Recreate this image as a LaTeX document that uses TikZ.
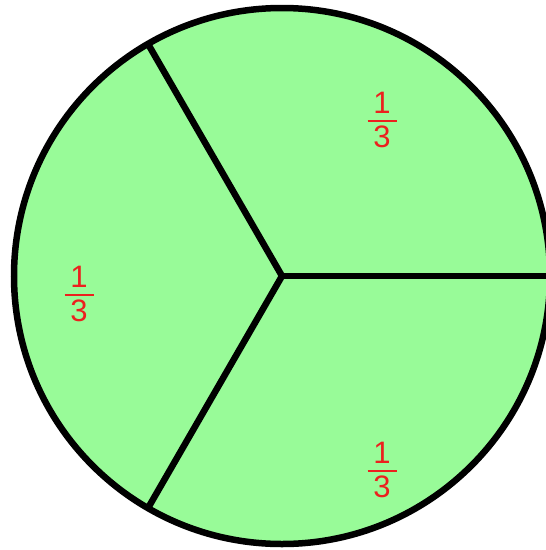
\documentclass[tikz,border=0pt]{standalone}
\usepackage{fontspec}
\setmainfont{Liberation Sans}
\usetikzlibrary{calc}
\definecolor{pgreen}{RGB}{152,251,152}
\definecolor{fred}{RGB}{236,32,30}
\begin{document}
\begin{tikzpicture}[x=1pt,y=-1pt,
  edge/.style={line width=6.5pt,black},
  num/.style={text=fred,font=\fontsize{31}{36}\selectfont,inner sep=0pt},
  fbar/.style={draw=fred,line width=2.5pt}]
\useasboundingbox (0,0) rectangle (546,550);
\begin{scope}
\clip (0,0) rectangle (546,550);
\coordinate (c) at (282,276);
\fill[pgreen] (c) circle[radius=268];
\coordinate (r) at ($(c)+(0:268)$);
\coordinate (ul) at ($(c)+(120:268)$);
\coordinate (ll) at ($(c)+(240:268)$);
\draw[edge] (c) -- (r);
\draw[edge] (c) -- (ul);
\draw[edge] (c) -- (ll);
\draw[line width=6.5pt] (c) circle[radius=268];
\end{scope}
% fraction 1 (top right)
\coordinate (f1) at (382,121);
\draw[fbar] ($(f1)+(-14.5,0)$) -- ($(f1)+(14.5,0)$);
\node[num,anchor=base] (f1n) at ($(f1)+(0,-8)$) {1};
\node[num,anchor=base] (f1d) at ($(f1)+(0,26)$) {3};
% fraction 2 (left)
\coordinate (f2) at (79,295);
\draw[fbar] ($(f2)+(-14.5,0)$) -- ($(f2)+(14.5,0)$);
\node[num,anchor=base] (f2n) at ($(f2)+(0,-8)$) {1};
\node[num,anchor=base] (f2d) at ($(f2)+(0,26)$) {3};
% fraction 3 (bottom)
\coordinate (f3) at (382,471);
\draw[fbar] ($(f3)+(-14.5,0)$) -- ($(f3)+(14.5,0)$);
\node[num,anchor=base] (f3n) at ($(f3)+(0,-8)$) {1};
\node[num,anchor=base] (f3d) at ($(f3)+(0,26)$) {3};
\end{tikzpicture}
\end{document}
